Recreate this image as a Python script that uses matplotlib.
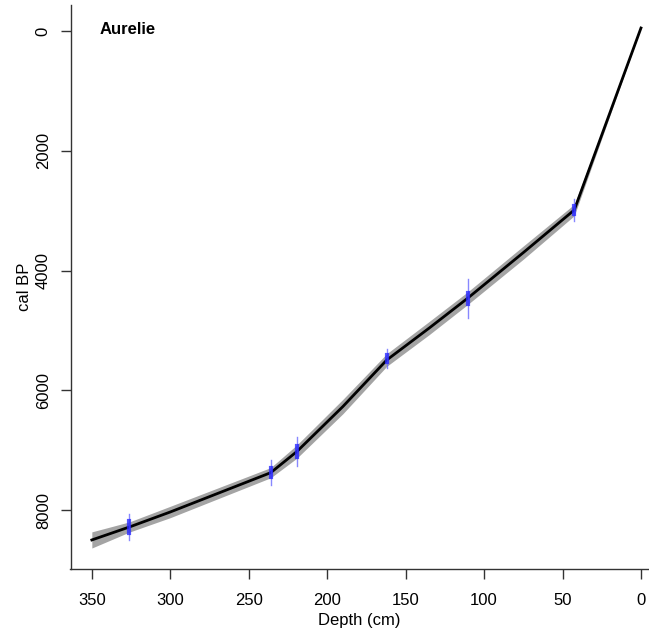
import numpy as np
import matplotlib
matplotlib.use("Agg")
import matplotlib.pyplot as plt

plt.rcParams['font.family'] = ['Liberation Sans', 'DejaVu Sans']

# age-depth model (mean curve) and its grey envelope half-width
depths = [0, 20, 42.5, 75, 110.5, 135, 162, 190, 219.4, 236, 300, 326, 350]
ages = [-50, 1380, 2988, 3700, 4462, 4960, 5492, 6270, 7023, 7374, 8030, 8280, 8497]
half_width = [0, 45, 95, 110, 105, 110, 105, 120, 110, 85, 95, 85, 135]

# dated levels (calibrated ranges)
date_depths = [42.5, 110.5, 162, 219.4, 236, 326]
date_ages = [2988, 4462, 5470, 7023, 7374, 8280]
date_err = [180, 325, 160, 240, 210, 215]
date_core = [70, 90, 60, 90, 70, 100]

site = "Aurelie"

fig = plt.figure(figsize=(6.49, 6.35), dpi=100)
ax = fig.add_axes([70.5 / 649, 66 / 635, 578 / 649, 564 / 635])

d = np.array(depths)
a = np.array(ages)
hw = np.array(half_width)
ax.fill_between(d, a - hw, a + hw, color='#a4a4a4', lw=0, zorder=1)
ax.plot(d, a, color='black', lw=2.0, zorder=2)

for dd, aa, ee, cc in zip(date_depths, date_ages, date_err, date_core):
    ax.plot([dd, dd], [aa - ee, aa + ee], color='#6a6aff', lw=1.0, alpha=0.8, zorder=3)
    ax.plot([dd, dd], [aa - cc, aa + cc], color='#2a2aff', lw=3.0, alpha=0.8, zorder=3)

ax.set_xlim(363.6, -4.8)
ax.set_ylim(8982, -434)
ax.set_xticks([350, 300, 250, 200, 150, 100, 50, 0])
ax.set_yticks([0, 2000, 4000, 6000, 8000])

for s in ['top', 'right']:
    ax.spines[s].set_visible(False)
for s in ['left', 'bottom']:
    ax.spines[s].set_color('#333333')
    ax.spines[s].set_linewidth(1.0)

ax.tick_params(axis='both', length=7.2, width=1.0, color='#333333', labelsize=12)
ax.tick_params(axis='x', pad=10)
ax.tick_params(axis='y', pad=7)
for lab in ax.get_yticklabels():
    lab.set_rotation(90)
    lab.set_va('center')

ax.set_xlabel("Depth (cm)", fontsize=12, labelpad=4)
ax.set_ylabel("cal BP", fontsize=12, labelpad=2.5)

ax.text(0.051, 0.957, site, transform=ax.transAxes, fontsize=12,
        fontweight='bold', ha='left', va='center')

fig.savefig("out.png", dpi=100)
